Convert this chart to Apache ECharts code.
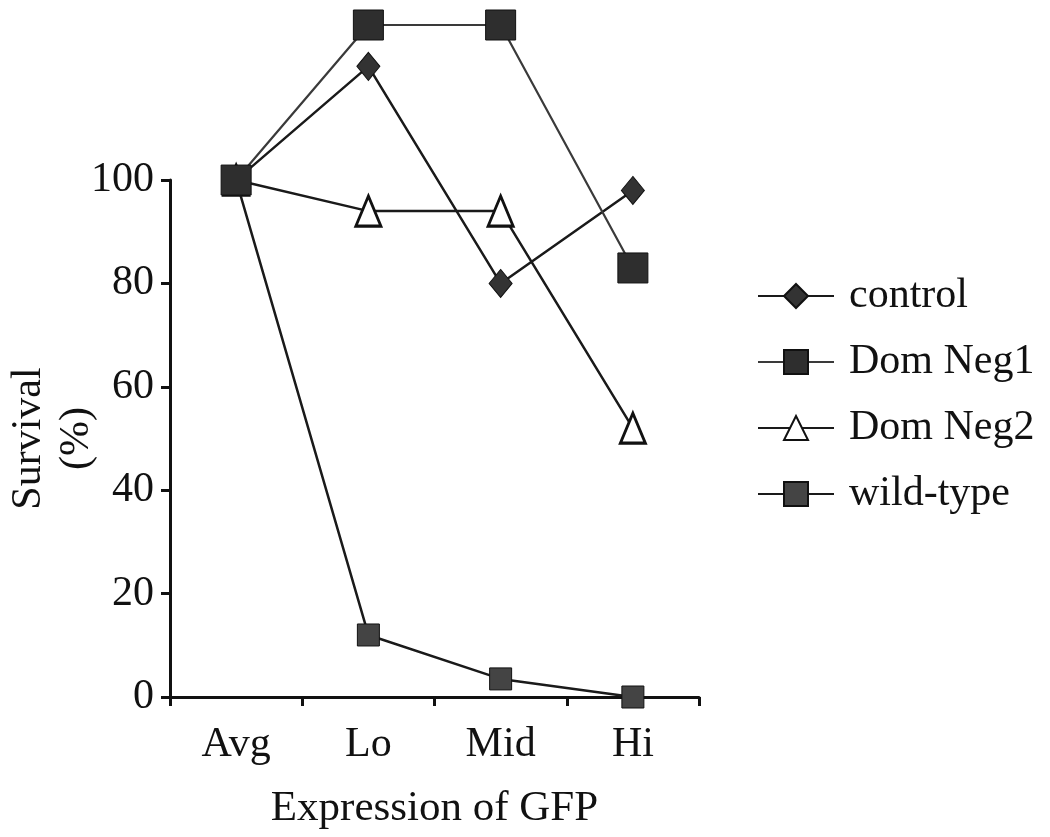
<!DOCTYPE html>
<html>
<head>
<meta charset="utf-8">
<script src="https://cdn.jsdelivr.net/npm/echarts@6/dist/echarts.min.js"></script>
<style>
  html, body { margin: 0; padding: 0; background: #fff; }
  #chart { width: 1050px; height: 837px; }
</style>
</head>
<body>
<div id="chart"></div>
<script>
// Survival (%) by GFP expression level
const categories = ['Avg', 'Lo', 'Mid', 'Hi'];
const control  = [100, 122, 80, 98];
const domNeg1  = [100, 130, 130, 83];
const domNeg2  = [100, 94, 94, 52];
const wildType = [100, 12, 3.5, 0];

const FONT = '"Liberation Serif", "Times New Roman", serif';
const INK = '#111';

const chart = echarts.init(document.getElementById('chart'), null, { renderer: 'canvas' });

// Grid 0 holds the data (room above 100 for the high points);
// grid 1 carries the visible axes, which stop at 100.
const gridLeft = 170, gridWidth = 529, gridBottom = 140;

const lineStyle = { color: '#1a1a1a', width: 2.5 };

chart.setOption({
  animation: false,
  backgroundColor: '#fff',
  textStyle: { fontFamily: FONT, color: INK },
  grid: [
    { left: gridLeft, width: gridWidth, top: 25, bottom: gridBottom, containLabel: false, outerBoundsMode: 'none' },
    { left: gridLeft, width: gridWidth, top: 180, bottom: gridBottom, containLabel: false, outerBoundsMode: 'none' }
  ],
  xAxis: [
    {
      gridIndex: 0, type: 'category', data: categories, boundaryGap: true,
      axisLine: { show: false }, axisTick: { show: false }, axisLabel: { show: false }
    },
    {
      gridIndex: 1, type: 'category', data: categories, boundaryGap: true,
      axisLine: { show: true, lineStyle: { color: INK, width: 3 } },
      axisTick: { show: true, inside: false, length: 9, lineStyle: { color: INK, width: 3 } },
      axisLabel: { color: INK, fontFamily: FONT, fontSize: 42, margin: 27 },
      name: 'Expression of GFP', nameLocation: 'middle', nameGap: 90, nameMoveOverlap: false,
      nameTextStyle: { color: INK, fontFamily: FONT, fontSize: 43 }
    }
  ],
  yAxis: [
    {
      gridIndex: 0, type: 'value', min: 0, max: 130,
      axisLine: { show: false }, axisTick: { show: false },
      axisLabel: { show: false }, splitLine: { show: false }
    },
    {
      gridIndex: 1, type: 'value', min: 0, max: 100, interval: 20,
      axisLine: { show: true, lineStyle: { color: INK, width: 3 } },
      axisTick: { show: true, inside: false, length: 9, lineStyle: { color: INK, width: 3 } },
      axisLabel: { color: INK, fontFamily: FONT, fontSize: 42, margin: 16 },
      splitLine: { show: false },
      name: 'Survival\n(%)', nameLocation: 'middle', nameGap: 69, nameMoveOverlap: false,
      nameTextStyle: { color: INK, fontFamily: FONT, fontSize: 42, lineHeight: 48, align: 'center' }
    }
  ],
  legend: {
    orient: 'vertical', left: 752, top: 270,
    itemWidth: 76, itemHeight: 30, itemGap: 24,
    textStyle: { color: INK, fontFamily: FONT, fontSize: 42, padding: [0, 0, 0, 10] },
    data: ['control', 'Dom Neg1', 'Dom Neg2', 'wild-type']
  },
  series: [
    {
      name: 'control', type: 'line', xAxisIndex: 0, yAxisIndex: 0, data: control,
      symbol: 'diamond', symbolSize: [23, 28], z: 3,
      lineStyle: lineStyle,
      itemStyle: { color: '#333', borderColor: '#111', borderWidth: 1 }
    },
    {
      name: 'Dom Neg1', type: 'line', xAxisIndex: 0, yAxisIndex: 0, data: domNeg1,
      symbol: 'rect', symbolSize: 30, z: 5,
      lineStyle: { color: '#3a3a3a', width: 2.2 },
      itemStyle: { color: '#2e2e2e', borderColor: '#111', borderWidth: 1 }
    },
    {
      name: 'Dom Neg2', type: 'line', xAxisIndex: 0, yAxisIndex: 0, data: domNeg2,
      symbol: 'triangle', symbolSize: [25, 30], z: 3,
      lineStyle: lineStyle,
      itemStyle: { color: '#fff', borderColor: '#111', borderWidth: 3 }
    },
    {
      name: 'wild-type', type: 'line', xAxisIndex: 0, yAxisIndex: 0, data: wildType,
      symbol: 'rect', symbolSize: 22, z: 4,
      lineStyle: lineStyle,
      itemStyle: { color: '#444', borderColor: '#111', borderWidth: 1 }
    }
  ]
});
</script>
</body>
</html>
